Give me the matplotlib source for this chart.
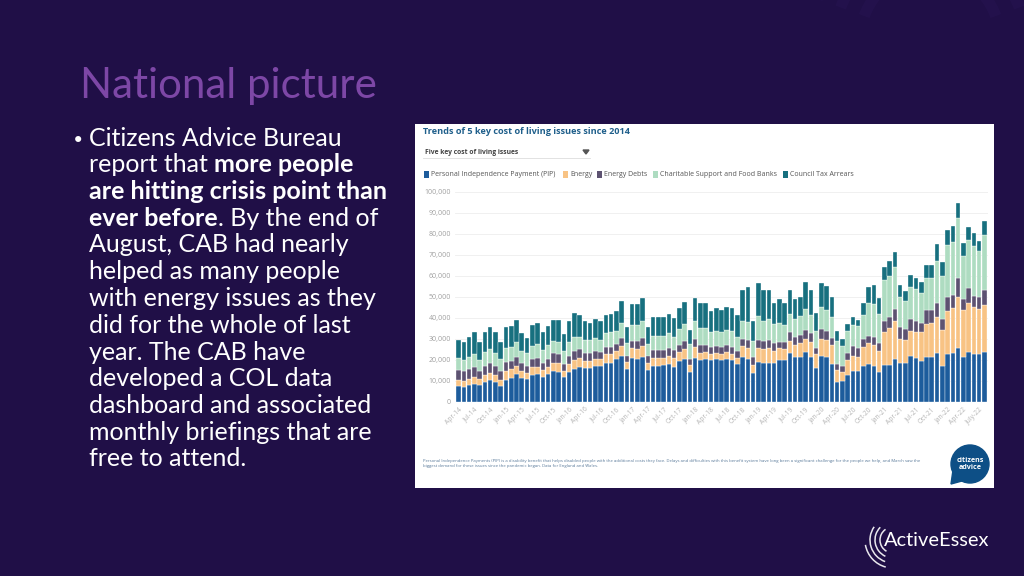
import numpy as np
import matplotlib
matplotlib.use("Agg")
import matplotlib.pyplot as plt
from matplotlib.patches import Rectangle, Circle, Arc, Polygon

# Monthly values (thousands), Apr-14 .. Aug-22
pip = [7.5, 7.2, 8.0, 8.5, 7.8, 9.5, 10.3, 9.3, 7.6, 10.5, 11.3, 13.0, 11.3, 10.8, 12.8, 13.3, 11.8,
       13.0, 14.5, 14.3, 11.8, 14.0, 15.5, 16.3, 16.0, 16.1, 17.0, 16.8, 18.5, 18.5, 20.2, 21.8, 15.6,
       20.8, 20.4, 21.2, 15.2, 17.0, 17.0, 17.3, 17.8, 16.6, 19.4, 20.4, 14.2, 21.0, 19.8, 20.2, 19.8,
       20.3, 20.0, 20.5, 19.8, 17.9, 21.4, 20.3, 13.5, 19.0, 18.3, 18.6, 18.6, 19.8, 19.8, 23.0, 21.4,
       21.4, 23.8, 21.4, 15.9, 21.9, 21.1, 17.9, 9.5, 9.8, 12.7, 14.8, 14.6, 17.1, 17.9, 17.1, 14.0,
       17.5, 17.5, 20.3, 18.3, 18.3, 21.7, 20.9, 19.4, 21.1, 21.1, 23.0, 17.1, 22.7, 23.0, 25.4, 21.4,
       23.8, 22.7, 22.7, 23.5]
energy = [3.0, 2.8, 3.0, 3.5, 3.2, 3.0, 3.5, 3.2, 2.9, 4.0, 4.2, 4.0, 3.2, 2.7, 3.7, 3.2, 3.2,
          3.5, 4.0, 4.2, 2.7, 4.0, 4.5, 4.7, 3.5, 3.4, 3.5, 3.7, 4.0, 4.0, 3.8, 4.7, 3.4,
          4.7, 4.6, 5.3, 3.3, 4.0, 4.0, 3.7, 4.2, 4.4, 4.1, 4.6, 3.3, 5.0, 3.2, 3.3, 2.7,
          2.7, 2.5, 3.0, 2.7, 3.1, 5.1, 5.2, 4.0, 6.5, 6.7, 6.9, 5.4, 5.7, 5.2, 6.0, 5.6,
          6.6, 6.2, 7.1, 6.6, 8.1, 8.4, 9.1, 5.5, 4.2, 7.3, 7.2, 6.9, 8.9, 10.1, 9.9, 10.0,
          15.5, 17.5, 18.2, 11.7, 11.2, 11.8, 12.1, 13.6, 15.9, 16.4, 17.5, 16.9, 20.3, 21.5, 24.6, 22.1,
          23.2, 22.3, 21.3, 22.5]
energy_debts = [4.5, 4.5, 4.5, 4.5, 3.8, 4.5, 4.7, 4.5, 4.0, 4.5, 4.0, 4.5, 4.0, 3.5, 4.0, 4.5, 3.5,
                4.0, 4.5, 4.0, 3.5, 4.0, 4.0, 4.0, 3.5, 3.5, 3.5, 3.0, 3.5, 3.5, 3.5, 4.0, 3.0,
                3.5, 4.0, 4.0, 3.5, 3.5, 3.5, 3.5, 3.5, 3.5, 3.5, 4.0, 3.0, 4.0, 4.0, 3.5, 3.5,
                3.5, 3.5, 3.5, 3.5, 3.0, 3.5, 4.0, 4.0, 4.0, 4.0, 4.0, 4.0, 3.0, 3.5, 4.0, 4.0,
                4.0, 4.0, 4.0, 3.0, 4.5, 4.0, 3.5, 3.0, 3.0, 3.0, 4.5, 4.0, 4.0, 3.5, 4.0, 4.0,
                5.5, 5.5, 5.5, 5.5, 5.0, 6.0, 5.5, 4.5, 6.5, 6.0, 6.5, 5.5, 7.0, 6.5, 9.0, 5.5,
                7.0, 5.5, 6.0, 7.0]
charitable = [6.0, 5.5, 6.0, 6.0, 5.2, 6.5, 6.5, 6.0, 6.0, 6.5, 6.5, 7.0, 5.5, 6.0, 6.0, 6.5, 6.0,
              6.5, 6.0, 6.0, 6.0, 6.5, 7.0, 6.0, 6.5, 6.5, 6.5, 6.0, 6.5, 7.0, 6.0, 7.0, 6.0,
              7.5, 7.5, 8.0, 5.5, 7.0, 7.0, 7.0, 7.0, 6.5, 7.5, 8.0, 7.0, 8.5, 8.0, 8.0, 7.0,
              7.0, 7.0, 7.0, 7.5, 7.0, 8.5, 8.5, 7.5, 11.5, 9.5, 10.0, 9.0, 9.0, 8.0, 9.0, 8.5,
              9.0, 10.0, 9.0, 8.0, 10.5, 10.0, 10.0, 11.0, 9.5, 10.5, 10.0, 10.5, 11.5, 15.5, 15.5, 14.0,
              19.5, 19.5, 20.0, 14.5, 13.5, 15.0, 15.0, 14.5, 15.5, 15.5, 20.0, 20.5, 24.5, 25.0, 28.5, 20.5,
              23.0, 23.5, 22.0, 26.5]
council_tax = [8.5, 8.2, 9.2, 10.5, 8.3, 9.5, 10.5, 10.0, 7.8, 10.0, 10.0, 10.5, 8.5, 7.5, 9.8, 9.9, 8.5,
               9.0, 10.0, 10.5, 8.0, 10.0, 11.0, 10.5, 9.0, 8.0, 9.0, 9.0, 9.0, 9.0, 9.5, 10.5, 7.5,
               10.0, 10.0, 11.0, 8.0, 9.0, 8.8, 8.8, 9.3, 9.0, 10.0, 10.7, 6.8, 11.0, 11.8, 12.1, 10.3,
               10.9, 10.7, 11.2, 10.9, 10.3, 14.7, 16.4, 9.4, 15.7, 14.7, 13.7, 9.8, 11.2, 10.3, 11.2, 9.2,
               9.0, 13.1, 11.7, 8.6, 11.3, 11.6, 9.2, 4.8, 3.2, 3.5, 3.7, 2.9, 5.6, 7.4, 8.9, 7.5,
               6.0, 7.1, 7.3, 5.6, 4.9, 5.8, 5.2, 5.1, 6.1, 6.1, 7.9, 6.7, 7.2, 7.8, 6.9, 5.9,
               6.3, 6.2, 4.7, 6.7]

series_names = ["Personal Independence Payment (PIP)", "Energy", "Energy Debts",
                "Charitable Support and Food Banks", "Council Tax Arrears"]
series_colors = ["#1d5c9c", "#f8c384", "#5d5271", "#aedcc1", "#17707f"]

tick_labels = ["Apr-14", "Jul-14", "Oct-14", "Jan-15", "Apr-15", "Jul-15", "Oct-15", "Jan-16",
               "Apr-16", "Jul-16", "Oct-16", "Jan-17", "Apr-17", "Jul-17", "Oct-17", "Jan-18",
               "Apr-18", "Jul-18", "Oct-18", "Jan-19", "Apr-19", "Jul-19", "Oct-19", "Jan-20",
               "Apr-20", "Jul-20", "Oct-20", "Jan-21", "Apr-21", "Jul-21", "Oct-21", "Jan-22",
               "Apr-22", "July-22"]

body_lines = [
    [("Citizens Advice Bureau", False)],
    [("report that ", False), ("more people", True)],
    [("are hitting crisis point than", True)],
    [("ever before", True), (". By the end of", False)],
    [("August, CAB had nearly", False)],
    [("helped as many people", False)],
    [("with energy issues as they", False)],
    [("did for the whole of last", False)],
    [("year. The CAB have", False)],
    [("developed a COL data", False)],
    [("dashboard and associated", False)],
    [("monthly briefings that are", False)],
    [("free to attend.", False)],
]

BG = "#200f47"
W, H = 1024, 576
PT = 0.72  # points per pixel at 100 dpi

fig = plt.figure(figsize=(10.24, 5.76), dpi=100)
fig.patch.set_facecolor(BG)
bg = fig.add_axes([0, 0, 1, 1])
bg.set_xlim(0, W)
bg.set_ylim(H, 0)
bg.axis("off")
bg.set_facecolor(BG)

# faint decorative arcs top right
for r in [70, 95, 120, 145]:
    bg.add_patch(Arc((930, 40), 2 * r, 2 * r, theta1=200, theta2=340,
                     color="#25134f", lw=8, alpha=0.7))

# title and body text
bg.text(80, 86, "National picture", fontsize=42 * PT, color="#7d47a6",
        family="Lato", va="center", ha="left")

renderer = fig.canvas.get_renderer()
y = 138
for line in body_lines:
    x = 89
    for txt, bold in line:
        t = bg.text(x, y, txt, fontsize=25 * PT, color="white", family="Lato",
                    fontweight="bold" if bold else "normal", va="center", ha="left")
        x += t.get_window_extent(renderer).width
    y += 26.75
bg.text(72, 141, "\u2022", fontsize=21 * PT, color="white", family="DejaVu Sans",
        va="center", ha="left")

# chart "image" panel
bg.add_patch(Rectangle((415, 124), 579, 364, facecolor="white", edgecolor="none"))
bg.text(423, 132, "Trends of 5 key cost of living issues since 2014", fontsize=9.2 * PT,
        color="#1f5f8b", fontweight="bold", family="Open Sans", va="center")
bg.text(425, 152, "Five key cost of living issues", fontsize=6.8 * PT, color="#444444",
        fontweight="bold", family="Open Sans", va="center")
bg.plot([423, 590], [157.5, 157.5], color="#dddddd", lw=0.6)
bg.add_patch(Polygon([[583, 150], [589, 150], [586, 154]], closed=True, color="#555555"))

leg_x = [424, 563, 597, 653, 783]
for lx, name, col in zip(leg_x, series_names, series_colors):
    bg.add_patch(Rectangle((lx, 170.5), 5, 7, facecolor=col, edgecolor="none"))
    bg.text(lx + 7, 174, name, fontsize=7.0 * PT, color="#555555", family="Open Sans",
            va="center")

foot1 = ("Personal Independence Payments (PIP) is a disability benefit that helps disabled people with "
         "the additional costs they face. Delays and difficulties with this benefit system have long been "
         "a significant challenge for the people we help, and March saw the")
foot2 = "biggest demand for these issues since the pandemic began. Data for England and Wales."
bg.text(423, 461, foot1, fontsize=4.3 * PT, color="#5a7a9a", family="Open Sans", va="center")
bg.text(423, 466.5, foot2, fontsize=4.3 * PT, color="#5a7a9a", family="Open Sans", va="center")

# citizens advice logo
bg.add_patch(Circle((970, 464), 19, color="#0d4f86"))
bg.add_patch(Polygon([[953, 470], [962, 481], [951, 484]], closed=True, color="#0d4f86"))
bg.text(970, 464, "citizens\nadvice", fontsize=7.2 * PT, color="white", fontweight="bold",
        family="Open Sans", ha="center", va="center", linespacing=1.0)

# Active Essex logo
bg.text(884, 540, "ActiveEssex", fontsize=20 * PT, color="white", family="Lato",
        va="center", ha="left")
for r, a1, a2 in [(13, 120, 235), (18, 115, 225), (23, 110, 215), (28, 105, 170)]:
    bg.add_patch(Arc((893, 540), 2 * r, 2 * r, theta1=a1, theta2=a2, color="white", lw=1.1,
                     alpha=0.9))

# stacked bar chart
ax = fig.add_axes([455 / W, 1 - 401.7 / H, (988 - 455) / W, (401.7 - 191.7) / H])
data = [np.array(s) * 1000 for s in [pip, energy, energy_debts, charitable, council_tax]]
x = np.arange(len(pip))
bottom = np.zeros(len(pip))
for vals, col in zip(data, series_colors):
    ax.bar(x, vals, bottom=bottom, width=0.86, color=col, edgecolor="white", linewidth=0.25)
    bottom += vals

ax.set_xlim(-0.7, len(pip) - 0.3)
ax.set_ylim(0, 100000)
yt = np.arange(0, 100001, 10000)
ax.set_yticks(yt)
ax.set_yticklabels([f"{v:,}" for v in yt], fontsize=7.0 * PT, color="#a0a0a0", family="Open Sans")
ax.yaxis.grid(True, color="#eeeeee", lw=0.6)
ax.set_axisbelow(True)
ax.set_xticks(np.arange(0, len(pip), 3))
ax.set_xticklabels(tick_labels, rotation=45, ha="right", rotation_mode="anchor",
                   fontsize=6.6 * PT, color="#b5b5b5", family="Open Sans")
ax.tick_params(length=0, pad=3)
for s in ax.spines.values():
    s.set_visible(False)
ax.set_facecolor("white")

fig.savefig("out.png", dpi=100, facecolor=BG)
